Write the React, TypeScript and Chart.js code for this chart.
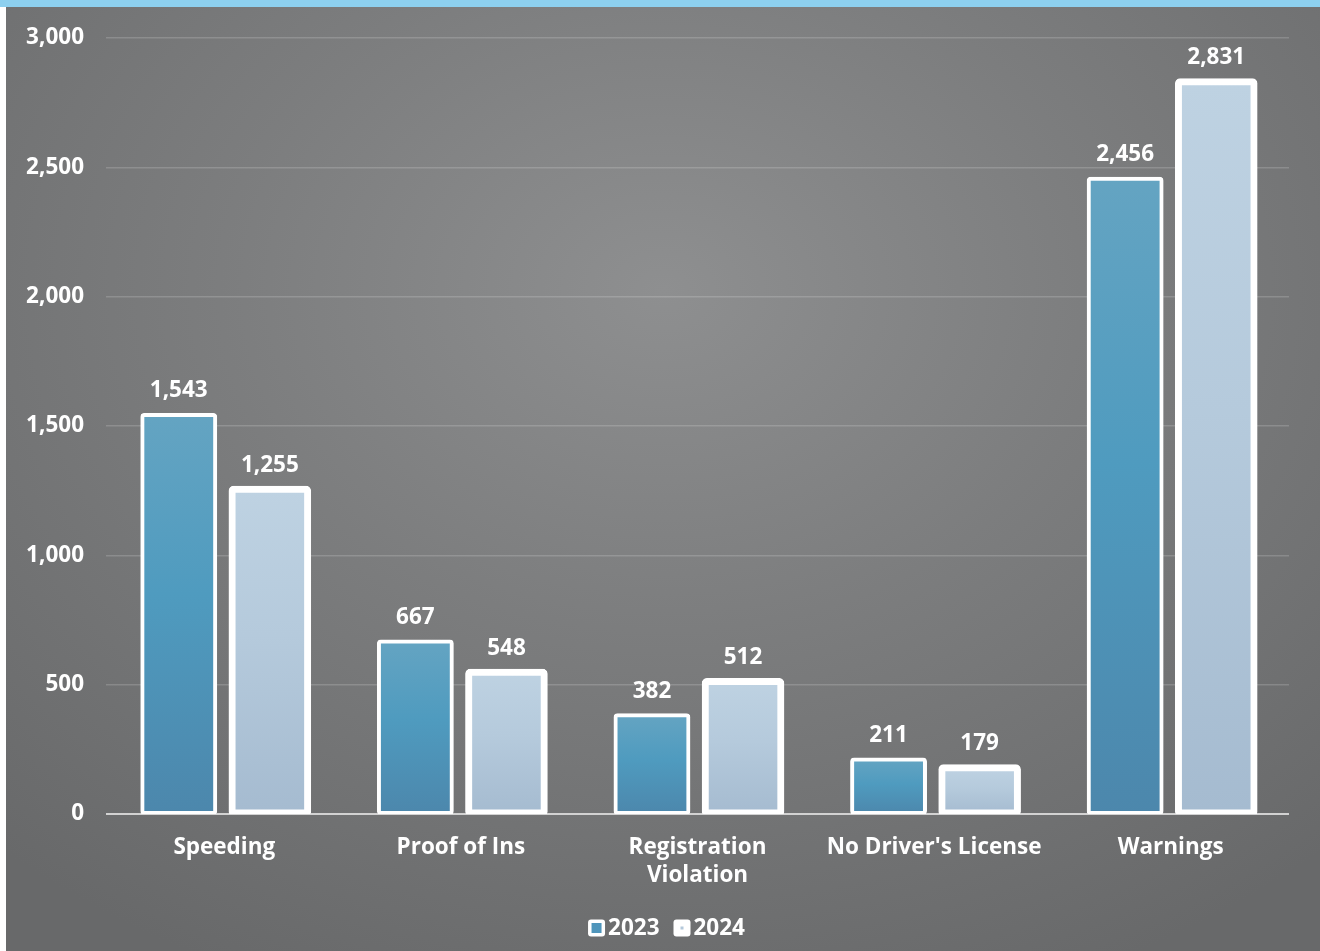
import React, { useEffect, useRef } from "react";
import { Chart, registerables } from "chart.js";

Chart.register(...registerables);

const categories: (string | string[])[] = [
  "Speeding",
  "Proof of Ins",
  ["Registration", "Violation"],
  "No Driver's License",
  "Warnings",
];
const values2023 = [1543, 667, 382, 211, 2456];
const values2024 = [1255, 548, 512, 179, 2831];
const seriesLabels = ["2023", "2024"];
const yMin = 0;
const yMax = 3000;
const yStep = 500;

const FONT = "'Open Sans', 'Liberation Sans', sans-serif";
const FS = 22.5;
const CANVAS_W = 1314;
const CANVAS_H = 944;

const grad2023 = ["#64a4c2", "#4f9bbf", "#4c87ac"];
const grad2024 = ["#bed2e2", "#b5cadc", "#a5bbd0"];
const solid2023 = "#4f95bb";
const solid2024 = "#b3c8da";

function barGradient(stops: string[]) {
  return (ctx: any) => {
    const chart = ctx.chart;
    const y = chart.scales && chart.scales.y;
    if (!y || ctx.type !== "data") return stops[1];
    const top = y.getPixelForValue(ctx.raw);
    const bot = y.getPixelForValue(0);
    if (!isFinite(top) || !isFinite(bot) || top === bot) return stops[1];
    const g = chart.ctx.createLinearGradient(0, top, 0, bot);
    g.addColorStop(0, stops[0]);
    g.addColorStop(0.45, stops[1]);
    g.addColorStop(1, stops[2]);
    return g;
  };
}

const fmt = (v: number) => v.toLocaleString("en-US");

const valueLabelPlugin = {
  id: "valueLabels",
  afterDatasetsDraw(chart: any) {
    const { ctx } = chart;
    const y = chart.scales.y;
    ctx.save();
    ctx.font = `700 ${FS}px ${FONT}`;
    ctx.fillStyle = "#ffffff";
    ctx.textAlign = "center";
    ctx.textBaseline = "middle";
    chart.data.datasets.forEach((ds: any, di: number) => {
      const meta = chart.getDatasetMeta(di);
      meta.data.forEach((el: any, i: number) => {
        const v = ds.data[i];
        const py = y.getPixelForValue(v) - 24;
        ctx.fillText(fmt(v), el.x, py);
      });
    });
    ctx.restore();
  },
};

const legendPlugin = {
  id: "customLegend",
  afterDraw(chart: any) {
    const { ctx } = chart;
    ctx.save();
    ctx.font = `700 ${FS}px ${FONT}`;
    ctx.textBaseline = "middle";
    ctx.textAlign = "left";
    const box = 17;
    const gap = 3;
    const itemGap = 14;
    const widths = seriesLabels.map((l) => box + gap + ctx.measureText(l).width);
    const total = widths.reduce((a, b) => a + b, 0) + itemGap * (widths.length - 1);
    let x = chart.width / 2 + 3.5 - total / 2;
    const cy = chart.height - 23;
    const inner = [solid2023, solid2024];
    const insets = [3.5, 7];
    seriesLabels.forEach((l, i) => {
      ctx.fillStyle = "#ffffff";
      ctx.beginPath();
      ctx.roundRect(x, cy - box / 2, box, box, 3);
      ctx.fill();
      ctx.fillStyle = inner[i];
      const ins = insets[i];
      ctx.fillRect(x + ins, cy - box / 2 + ins, box - 2 * ins, box - 2 * ins);
      ctx.fillStyle = "#ffffff";
      ctx.fillText(l, x + box + gap, cy + 1);
      x += widths[i] + itemGap;
    });
    ctx.restore();
  },
};

export default function App() {
  const canvasRef = useRef<HTMLCanvasElement | null>(null);

  useEffect(() => {
    if (!canvasRef.current) return;
    const chart = new Chart(canvasRef.current, {
      type: "bar",
      data: {
        labels: categories,
        datasets: [
          {
            label: seriesLabels[0],
            data: values2023,
            backgroundColor: barGradient(grad2023) as any,
            borderColor: "#ffffff",
            borderWidth: 4,
            borderRadius: 4,
            borderSkipped: false,
            inflateAmount: 2,
            barPercentage: 0.8,
            categoryPercentage: 0.77,
          },
          {
            label: seriesLabels[1],
            data: values2024,
            backgroundColor: barGradient(grad2024) as any,
            borderColor: "#ffffff",
            borderWidth: 7,
            borderRadius: 5,
            borderSkipped: false,
            inflateAmount: 3.5,
            barPercentage: 0.83,
            categoryPercentage: 0.77,
          },
        ],
      },
      options: {
        responsive: false,
        animation: false,
        devicePixelRatio: 1,
        layout: { padding: { left: 0, right: 31, top: 31, bottom: 0 } },
        plugins: {
          legend: { display: false },
          tooltip: { enabled: false },
          title: { display: false },
        },
        scales: {
          x: {
            grid: { display: false, drawTicks: false },
            border: { display: false },
            ticks: {
              color: "#ffffff",
              padding: 19,
              font: { family: FONT, size: FS, weight: "bold", lineHeight: 1.27 },
              maxRotation: 0,
              autoSkip: false,
            },
            afterFit(scale: any) {
              scale.height = 137;
            },
          },
          y: {
            min: yMin,
            max: yMax,
            grid: {
              drawTicks: false,
              color: (c: any) => (c.tick && c.tick.value === 0 ? "#d2d2d2" : "rgba(255,255,255,0.17)"),
              lineWidth: (c: any) => (c.tick && c.tick.value === 0 ? 2 : 1.5),
            },
            border: { display: false },
            ticks: {
              stepSize: yStep,
              color: "#ffffff",
              padding: 22,
              font: { family: FONT, size: FS, weight: "bold" },
              callback: (v: any) => fmt(Number(v)),
            },
            afterFit(scale: any) {
              scale.width = 100;
              scale.paddingTop = 0;
              scale.paddingBottom = 0;
            },
          },
        },
      },
      plugins: [valueLabelPlugin, legendPlugin],
    });
    return () => chart.destroy();
  }, []);

  return (
    <div
      style={{
        position: "absolute",
        left: 0,
        top: 0,
        width: 1320,
        height: 951,
        background: "#ffffff",
        overflow: "hidden",
      }}
    >
      <div style={{ position: "absolute", left: 0, top: 0, width: 1320, height: 7, background: "#8dd0ef" }} />
      <div
        style={{
          position: "absolute",
          left: 6,
          top: 7,
          width: CANVAS_W,
          height: CANVAS_H,
          background:
            "radial-gradient(ellipse 75% 80% at 50% 30%, #8e8f90 0%, #7c7d7e 45%, #68696a 100%)",
        }}
      >
        <canvas ref={canvasRef} width={CANVAS_W} height={CANVAS_H} style={{ display: "block" }} />
      </div>
    </div>
  );
}
